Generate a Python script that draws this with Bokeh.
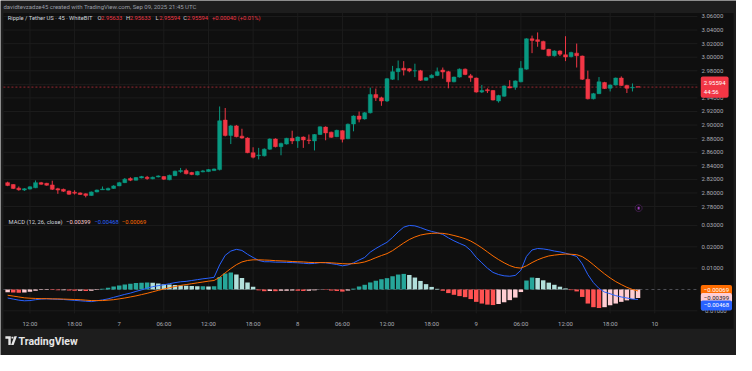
import math
from bokeh.plotting import figure
from bokeh.models import (Range1d, FixedTicker, Label, BoxAnnotation,
                          PolyAnnotation, ColumnDataSource)
from bokeh.embed import file_html
from bokeh.resources import INLINE

# ---------------- data ----------------
opens = [2.8152, 2.8124, 2.8071, 2.8043, 2.8057, 2.8076, 2.8152, 2.8142, 2.8118, 2.8062,
         2.8053, 2.8029, 2.8011, 2.8001, 2.7987, 2.7963, 2.8015, 2.8047, 2.8043, 2.8067,
         2.8104, 2.8152, 2.8212, 2.8188, 2.8222, 2.8231, 2.8208, 2.8236, 2.8241, 2.8194,
         2.8255, 2.8315, 2.8329, 2.8301, 2.8265, 2.8311, 2.8315, 2.8329, 2.8344, 2.9073,
         2.8847, 2.8988, 2.8837, 2.8809, 2.8593, 2.8550, 2.8547, 2.8645, 2.8795, 2.8682,
         2.8720, 2.8805, 2.8767, 2.8823, 2.8781, 2.8767, 2.8861, 2.8970, 2.8896, 2.8829,
         2.8918, 2.8800, 2.9016, 2.9133, 2.9091, 2.9181, 2.9449, 2.9401, 2.9355, 2.9675,
         2.9787, 2.9838, 2.9830, 2.9799, 2.9801, 2.9660, 2.9697, 2.9731, 2.9810, 2.9787,
         2.9637, 2.9707, 2.9824, 2.9725, 2.9693, 2.9486, 2.9520, 2.9510, 2.9355, 2.9425,
         2.9566, 2.9556, 2.9637, 2.9824, 3.0271, 3.0257, 3.0233, 3.0116, 3.0021, 3.0092,
         3.0036, 3.0008, 3.0060, 3.0017, 2.9675, 2.9387, 2.9463, 2.9627, 2.9542, 2.9590,
         2.9693, 2.9584, 2.9548, 2.95633]
highs = [2.8166, 2.8128, 2.8095, 2.8071, 2.8100, 2.8184, 2.8163, 2.8149, 2.8180, 2.8076,
         2.8064, 2.8036, 2.8039, 2.8008, 2.7994, 2.8022, 2.8050, 2.8095, 2.8079, 2.8114,
         2.8163, 2.8220, 2.8231, 2.8234, 2.8251, 2.8251, 2.8241, 2.8259, 2.8248, 2.8269,
         2.8328, 2.8368, 2.8358, 2.8311, 2.8325, 2.8339, 2.8353, 2.8360, 2.9274, 2.9252,
         2.9002, 2.9002, 2.8946, 2.8819, 2.8673, 2.8664, 2.8657, 2.8805, 2.8805, 2.8741,
         2.8812, 2.8917, 2.8833, 2.8833, 2.8861, 2.8868, 2.8981, 2.8981, 2.8903, 2.8932,
         2.8925, 2.9023, 2.9143, 2.9199, 2.9192, 2.9552, 2.9538, 2.9418, 2.9693, 2.9872,
         2.9951, 2.9942, 2.9841, 2.9904, 2.9813, 2.9707, 2.9749, 2.9848, 2.9848, 2.9799,
         2.9714, 2.9834, 2.9834, 2.9754, 2.9700, 2.9590, 2.9542, 2.9517, 2.9446, 2.9584,
         2.9661, 2.9658, 2.9942, 3.0278, 3.0318, 3.0365, 3.0243, 3.0123, 3.0102, 3.0102,
         3.0309, 3.0081, 3.0201, 3.0024, 2.9802, 2.9474, 2.9707, 2.9637, 2.9601, 2.9700,
         2.9717, 2.9594, 2.9613, 2.95633]
lows = [2.8100, 2.8057, 2.8033, 2.8029, 2.8050, 2.8071, 2.8121, 2.8107, 2.8043, 2.7987,
        2.8015, 2.7972, 2.7977, 2.7972, 2.7935, 2.7959, 2.8008, 2.8043, 2.8036, 2.8060,
        2.8100, 2.8145, 2.8174, 2.8184, 2.8215, 2.8194, 2.8201, 2.8229, 2.8191, 2.8187,
        2.8248, 2.8297, 2.8273, 2.8262, 2.8258, 2.8304, 2.8311, 2.8325, 2.8332, 2.8833,
        2.8720, 2.8819, 2.8798, 2.8586, 2.8509, 2.8494, 2.8537, 2.8635, 2.8671, 2.8555,
        2.8713, 2.8720, 2.8664, 2.8664, 2.8720, 2.8626, 2.8854, 2.8776, 2.8812, 2.8822,
        2.8744, 2.8791, 2.8908, 2.9040, 2.9080, 2.9171, 2.9355, 2.9284, 2.9340, 2.9665,
        2.9660, 2.9731, 2.9778, 2.9707, 2.9651, 2.9651, 2.9690, 2.9721, 2.9683, 2.9542,
        2.9630, 2.9700, 2.9735, 2.9637, 2.9477, 2.9472, 2.9472, 2.9362, 2.9331, 2.9418,
        2.9542, 2.9520, 2.9630, 2.9817, 3.0060, 3.0154, 3.0109, 3.0013, 3.0010, 3.0017,
        2.9942, 2.9996, 2.9848, 2.9665, 2.9378, 2.9378, 2.9456, 2.9531, 2.9495, 2.9583,
        2.9577, 2.9472, 2.9495, 2.95594]
closes = [2.8110, 2.8067, 2.8047, 2.8062, 2.8090, 2.8152, 2.8128, 2.8114, 2.8053, 2.8043,
          2.8025, 2.7981, 2.7997, 2.7977, 2.7963, 2.8015, 2.8043, 2.8057, 2.8067, 2.8104,
          2.8152, 2.8203, 2.8188, 2.8227, 2.8241, 2.8212, 2.8231, 2.8251, 2.8203, 2.8259,
          2.8321, 2.8329, 2.8283, 2.8273, 2.8315, 2.8325, 2.8344, 2.8353, 2.9063, 2.8847,
          2.8988, 2.8829, 2.8809, 2.8593, 2.8527, 2.8558, 2.8645, 2.8795, 2.8682, 2.8730,
          2.8805, 2.8767, 2.8823, 2.8781, 2.8772, 2.8861, 2.8974, 2.8885, 2.8819, 2.8922,
          2.8791, 2.9012, 2.9133, 2.9087, 2.9181, 2.9449, 2.9401, 2.9355, 2.9683, 2.9787,
          2.9834, 2.9810, 2.9796, 2.9801, 2.9660, 2.9697, 2.9735, 2.9787, 2.9782, 2.9637,
          2.9707, 2.9824, 2.9745, 2.9697, 2.9486, 2.9510, 2.9505, 2.9369, 2.9435, 2.9576,
          2.9548, 2.9651, 2.9838, 3.0271, 3.0247, 3.0233, 3.0116, 3.0021, 3.0092, 3.0045,
          3.0003, 3.0069, 3.0021, 2.9675, 2.9387, 2.9463, 2.9637, 2.9538, 2.9590, 2.9693,
          2.9584, 2.9542, 2.95554, 2.95594]

macd_line = [-0.0040, -0.0045, -0.0050, -0.0053, -0.0052, -0.0048, -0.0045, -0.0044, -0.0045, -0.0046,
             -0.0047, -0.0049, -0.0051, -0.0053, -0.0055, -0.0057, -0.0053, -0.0049, -0.0044, -0.0037,
             -0.0030, -0.0023, -0.0017, -0.0009, -0.0002, 0.0006, 0.0013, 0.0018, 0.0022, 0.0027,
             0.0032, 0.0036, 0.0038, 0.0042, 0.0046, 0.0050, 0.0053, 0.0057, 0.0115, 0.0160,
             0.0180, 0.0188, 0.0183, 0.0165, 0.0150, 0.0136, 0.0130, 0.0130, 0.0128, 0.0128,
             0.0127, 0.0126, 0.0125, 0.0123, 0.0121, 0.0122, 0.0126, 0.0125, 0.0121, 0.0117,
             0.0111, 0.0115, 0.0125, 0.0138, 0.0150, 0.0175, 0.0192, 0.0207, 0.0221, 0.0244,
             0.0270, 0.0292, 0.0300, 0.0298, 0.0290, 0.0280, 0.0272, 0.0266, 0.0258, 0.0242,
             0.0228, 0.0216, 0.0205, 0.0183, 0.0150, 0.0125, 0.0100, 0.0080, 0.0070, 0.0064,
             0.0062, 0.0066, 0.0090, 0.0155, 0.0185, 0.0192, 0.0190, 0.0186, 0.0180, 0.0176,
             0.0170, 0.0163, 0.0155, 0.0120, 0.0070, 0.0032, 0.0005, -0.0012, -0.0020, -0.0029,
             -0.0035, -0.0040, -0.0045, -0.00468]
signal_line = [-0.0027, -0.0031, -0.0035, -0.0039, -0.0041, -0.0042, -0.0043, -0.0043, -0.0044, -0.0044,
               -0.0045, -0.0046, -0.0047, -0.0048, -0.0050, -0.0052, -0.0052, -0.0052, -0.0050, -0.0048,
               -0.0044, -0.0040, -0.0035, -0.0030, -0.0024, -0.0018, -0.0011, -0.0004, 0.0002, 0.0008,
               0.0014, 0.0019, 0.0023, 0.0027, 0.0031, 0.0035, 0.0039, 0.0042, 0.0057, 0.0078,
               0.0098, 0.0116, 0.0129, 0.0136, 0.0139, 0.0139, 0.0138, 0.0137, 0.0135, 0.0134,
               0.0133, 0.0131, 0.0130, 0.0129, 0.0127, 0.0126, 0.0126, 0.0126, 0.0125, 0.0123,
               0.0121, 0.0120, 0.0121, 0.0124, 0.0129, 0.0138, 0.0149, 0.0159, 0.0168, 0.0182,
               0.0200, 0.0218, 0.0234, 0.0246, 0.0255, 0.0260, 0.0263, 0.0264, 0.0263, 0.0259,
               0.0253, 0.0246, 0.0238, 0.0227, 0.0212, 0.0195, 0.0176, 0.0157, 0.0140, 0.0125,
               0.0112, 0.0103, 0.0100, 0.0111, 0.0126, 0.0139, 0.0149, 0.0157, 0.0161, 0.0164,
               0.0166, 0.0165, 0.0163, 0.0154, 0.0137, 0.0116, 0.0094, 0.0073, 0.0054, 0.0037,
               0.0023, 0.0010, 0.0000, -0.00069]
hist = [-0.0013, -0.0014, -0.0015, -0.0014, -0.0011, -0.0006, -0.0003, -0.0002, -0.0003, -0.0004,
        -0.0004, -0.0005, -0.0006, -0.0006, -0.0007, -0.0006, -0.0002, 0.0003, 0.0008, 0.0014,
        0.0019, 0.0023, 0.0027, 0.0030, 0.0032, 0.0033, 0.0031, 0.0028, 0.0025, 0.0023,
        0.0021, 0.0019, 0.0017, 0.0016, 0.0015, 0.0015, 0.0014, 0.0015, 0.0058, 0.0075,
        0.0079, 0.0070, 0.0054, 0.0033, 0.0013, -0.0004, -0.0008, -0.0007, -0.0008, -0.0006,
        -0.0006, -0.0005, -0.0006, -0.0007, -0.0006, -0.0004, -0.0001, -0.0002, -0.0005, -0.0007,
        -0.0010, -0.0005, 0.0004, 0.0014, 0.0022, 0.0033, 0.0041, 0.0048, 0.0053, 0.0062,
        0.0070, 0.0073, 0.0068, 0.0056, 0.0040, 0.0025, 0.0012, 0.0003, -0.0006, -0.0017,
        -0.0025, -0.0031, -0.0036, -0.0045, -0.0058, -0.0066, -0.0071, -0.0073, -0.0068, -0.0060,
        -0.0050, -0.0038, -0.0012, 0.0042, 0.0056, 0.0054, 0.0043, 0.0032, 0.0022, 0.0013,
        0.0005, -0.0003, -0.0009, -0.0035, -0.0066, -0.0083, -0.0087, -0.0083, -0.0074, -0.0066,
        -0.0058, -0.0051, -0.0045, -0.00399]

price_ticks = [3.06, 3.04, 3.02, 3.00, 2.98, 2.96, 2.94, 2.92, 2.90, 2.88, 2.86, 2.84, 2.82, 2.80, 2.78]
macd_ticks = [0.03, 0.02, 0.01, -0.01]
time_tick_bars = [4, 12, 20, 28, 36, 44, 52, 60, 68, 76, 84, 92, 100, 108, 116]
time_tick_labels = ["12:00", "18:00", "7", "06:00", "12:00", "18:00", "8", "06:00",
                    "12:00", "18:00", "9", "06:00", "12:00", "18:00", "10"]
countdown = "44:56"
snapshot_text = "davidtevzadze45 created with TradingView.com, Sep 09, 2025 21:45 UTC"
symbol_text = "Ripple / Tether US \u00b7 45 \u00b7 WhiteBIT"
macd_title = "MACD (12, 26, close)"

# ---------------- layout / styling ----------------
W, H = 736, 355
RW, RH = 752.0, 371.0          # reference picture size
SX, SY = W / RW, H / RH
GREEN, RED = "#089981", "#f23645"
CHART_BG, OUTER_BG = "#0f0f0f", "#1d1d1d"
GRID = "#1c1c1c"
TXT = "#a9acb4"
FONT = "Roboto"


# calibration of the reference picture (pixel -> value)
def bar_at(px):
    return (px - 7.3) / 5.7


def price_at(py):
    return 3.06 - (py - 16.7) / 709.3


def macd_at(py):
    return (302.0 - py) / 2230.0


PANE_L, PANE_R = bar_at(3), bar_at(712)       # chart area (left of price scale)
PRICE_TOP, MACD_BOT = 13, 327                 # pane limits in reference pixels


def fmt(v):
    return f"{v:.5f}".replace("-", "\u2212")


p = figure(width=W, height=H, output_backend="svg", toolbar_location=None,
           x_range=Range1d(bar_at(0), bar_at(RW)),
           y_range=Range1d(price_at(RH), price_at(0)),
           y_axis_location="right",
           min_border_left=0, min_border_right=0, min_border_top=0, min_border_bottom=0)
p.extra_y_ranges = {"macd": Range1d(macd_at(RH), macd_at(0))}
p.background_fill_color = OUTER_BG
p.border_fill_color = OUTER_BG
p.outline_line_color = None
p.xgrid.visible = False
p.ygrid.visible = False

# dark panel for chart + scales
p.add_layout(BoxAnnotation(left=3 * SX, right=749 * SX, top=13 * SY, bottom=343 * SY,
                           left_units="canvas", right_units="canvas",
                           top_units="canvas", bottom_units="canvas",
                           fill_color=CHART_BG, fill_alpha=1, line_color=None,
                           level="underlay"))

# grid lines (limited to the panes)
p.segment(x0=time_tick_bars, x1=time_tick_bars,
          y0=[price_at(MACD_BOT)] * len(time_tick_bars),
          y1=[price_at(PRICE_TOP)] * len(time_tick_bars), color=GRID, line_width=1)
p.segment(x0=[PANE_L] * len(price_ticks), x1=[PANE_R] * len(price_ticks),
          y0=price_ticks, y1=price_ticks, color=GRID, line_width=1)
p.segment(x0=[PANE_L] * len(macd_ticks), x1=[PANE_R] * len(macd_ticks),
          y0=macd_ticks, y1=macd_ticks, color=GRID, line_width=1, y_range_name="macd")

# last-price line and MACD zero line
p.segment(x0=[PANE_L], x1=[PANE_R], y0=[closes[-1]], y1=[closes[-1]],
          color=RED, line_alpha=0.6, line_width=1, line_dash="2 2")
p.segment(x0=[PANE_L], x1=[PANE_R], y0=[0], y1=[0], color="#787b86",
          line_alpha=0.6, line_width=1, line_dash="3 3", y_range_name="macd")

# candles
idx = list(range(len(closes)))
src = ColumnDataSource(dict(
    x=idx, h=highs, l=lows,
    top=[max(o, c) for o, c in zip(opens, closes)],
    bot=[min(o, c) for o, c in zip(opens, closes)],
    color=[GREEN if c >= o else RED for o, c in zip(opens, closes)],
))
p.segment(x0="x", y0="h", x1="x", y1="l", color="color", line_width=1, source=src)
p.vbar(x="x", top="top", bottom="bot", width=0.7, fill_color="color",
       line_color="color", line_width=0.5, source=src)

# MACD histogram + lines
hcol = []
for k, hv in enumerate(hist):
    prev = hist[k - 1] if k else hv
    if hv >= 0:
        hcol.append("#26a69a" if hv >= prev else "#b2dfdb")
    else:
        hcol.append("#ffcdd2" if hv >= prev else "#ff5252")
hsrc = ColumnDataSource(dict(x=idx, top=hist, color=hcol))
p.vbar(x="x", top="top", bottom=0, width=0.8, fill_color="color", line_color=None,
       y_range_name="macd", source=hsrc)
p.line(idx, macd_line, color="#2962ff", line_width=1, y_range_name="macd")
p.line(idx, signal_line, color="#ff6d00", line_width=1, y_range_name="macd")

# axes: labels drawn back inside the dark scale area
p_lo, p_hi = p.y_range.start, p.y_range.end
m_lo, m_hi = p.extra_y_ranges["macd"].start, p.extra_y_ranges["macd"].end


def macd_to_price(v):
    return p_lo + (v - m_lo) / (m_hi - m_lo) * (p_hi - p_lo)


ytick_pos = list(price_ticks) + [macd_to_price(v) for v in macd_ticks]
ylabels = {t: fmt(t) for t in price_ticks}
ylabels.update({macd_to_price(v): fmt(v) for v in macd_ticks})

ya = p.yaxis[0]
ya.ticker = FixedTicker(ticks=ytick_pos)
ya.major_label_overrides = ylabels
xa = p.xaxis[0]
xa.ticker = FixedTicker(ticks=time_tick_bars)
xa.major_label_overrides = dict(zip(time_tick_bars, time_tick_labels))
for ax in (xa, ya):
    ax.axis_line_color = None
    ax.major_tick_line_color = None
    ax.minor_tick_line_color = None
    ax.major_tick_out = 0
    ax.major_tick_in = 0
    ax.major_label_text_font = FONT
    ax.major_label_text_font_size = "6px"
    ax.major_label_text_color = TXT
ya.major_label_standoff = int(round((716 - RW) * SX))
xa.major_label_standoff = int(round((333 - RH) * SY))


def canvas_label(x, y, text, color, size="5.8px", bold=False):
    p.add_layout(Label(x=x * SX, y=y * SY, x_units="canvas", y_units="canvas",
                       text=text, text_color=color, text_font=FONT,
                       text_font_size=size, text_baseline="middle",
                       text_font_style="bold" if bold else "normal"))


canvas_label(3, 6.7, snapshot_text, "#9b9ea6", "6px")
canvas_label(7.3, 18.3, symbol_text, "#d1d4dc")
ohlc = [("O", opens[-1], 99), ("H", highs[-1], 128.3), ("L", lows[-1], 158.3), ("C", closes[-1], 186.7)]
for letter, v, xx in ohlc:
    canvas_label(xx, 18.3, letter, "#d1d4dc")
    canvas_label(xx + 3.8, 18.3, f"{v:.5f}", RED)
chg = closes[-1] - closes[-2]
canvas_label(216, 18.3, f"{chg:+.5f} ({chg / closes[-2] * 100:+.2f}%)", RED)

canvas_label(8.3, 231.7, macd_title, "#d1d4dc")
canvas_label(67, 231.7, fmt(hist[-1]), "#ffcdd2")
canvas_label(96, 231.7, fmt(macd_line[-1]), "#2962ff")
canvas_label(124, 231.7, fmt(signal_line[-1]), "#ff6d00")

# scale value tags
box_x = 715.5 * SX


def tag(yv, text, bg, fg, rng="default", yoff=0):
    p.add_layout(Label(x=box_x, x_units="canvas", y=yv, y_range_name=rng,
                       text=text, text_color=fg, text_font=FONT, text_font_size="6px",
                       text_baseline="middle", background_fill_color=bg,
                       background_fill_alpha=1, padding=3, border_radius=2,
                       y_offset=yoff))


tag(closes[-1], f"{closes[-1]:.5f}\n{countdown}", RED, "#ffffff")
tag(signal_line[-1], fmt(signal_line[-1]), "#ff6d00", "#ffffff", "macd", 1)
tag(hist[-1], fmt(hist[-1]), "#ffcdd2", "#131722", "macd", 0)
tag(macd_line[-1], fmt(macd_line[-1]), "#2962ff", "#ffffff", "macd", -6)


# decorative shapes (canvas units)
def shape(xs, ys, fill="#e6e6e6", line=None, fill_alpha=1.0):
    p.add_layout(PolyAnnotation(xs=[v * SX for v in xs], ys=[v * SY for v in ys],
                                xs_units="canvas", ys_units="canvas",
                                fill_color=fill, fill_alpha=fill_alpha,
                                line_color=line, line_width=1))


# events marker (purple ring) near the bottom of the price pane
ring = [k * math.pi / 8 for k in range(16)]
shape([652 + 3.6 * math.cos(a) for a in ring], [217 + 3.6 * math.sin(a) for a in ring],
      fill=CHART_BG, line="#a23fc2")
shape([651, 653, 653, 651], [215.6, 215.6, 218.4, 218.4], fill="#a23fc2")

# footer logo + wordmark
shape([5, 10.5, 10.5, 8, 8, 5], [351, 351, 360, 360, 353.6, 353.6])
shape([11.2, 13.2, 13.2, 11.2], [351.3, 351.3, 353.3, 353.3])
shape([14.2, 16.8, 13.4, 10.8], [351, 351, 360, 360])
canvas_label(18.5, 356, "TradingView", "#e6e6e6", "10.5px", bold=True)

open("out.html", "w").write(file_html(p, INLINE))
